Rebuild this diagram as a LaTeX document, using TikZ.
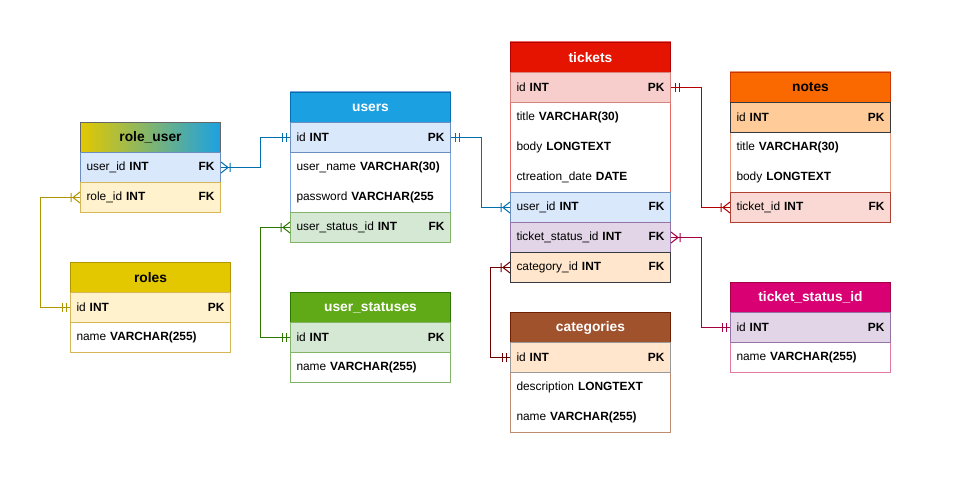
\documentclass[tikz,border=0pt]{standalone}
\usepackage{fontspec}
\setmainfont{Liberation Sans}

\definecolor{ublue}{HTML}{006EAF}
\definecolor{ugold}{HTML}{B09500}
\definecolor{ugreen}{HTML}{2D7600}
\definecolor{ured}{HTML}{B20000}
\definecolor{upink}{HTML}{A50040}
\definecolor{ubrown}{HTML}{6F0000}
\definecolor{shadegold}{HTML}{E3C800}
\definecolor{shadeblue}{HTML}{1BA1E2}

\newcommand{\keyat}[1]{\hskip 0pt plus 1filll\textbf{#1}}

\tikzset{
  hdr/.style={draw, anchor=north west, minimum width=160pt, minimum height=30pt,
    inner sep=0pt, font=\fontsize{13.8}{15}\selectfont\bfseries},
  fld/.style={anchor=north west, minimum height=30pt, text width=148pt,
    inner xsep=6pt, inner ysep=0pt, font=\fontsize{11.9}{13}\selectfont},
  small/.style={text width=128pt},
  conn/.style={line width=1pt},
  mandone/.pic={\draw[line width=1pt] (-4,-4.5) -- (-4,4.5) (-8,-4.5) -- (-8,4.5);},
  onemany/.pic={\draw[line width=1pt] (0,-5.5) -- (-7,0) -- (0,5.5) (-9,-4.5) -- (-9,4.5);},
}

\begin{document}
\begin{tikzpicture}[x=1pt, y=-1pt, line width=1pt]
\useasboundingbox (0,0) rectangle (971,481);

% role_user table
\begin{scope}[shift={(80,122)}]
    \node[hdr, minimum width=140pt, draw=black!60, left color=shadegold, right color=shadeblue]
        (ru) at (0,0) {role\_user};
    \node[fld, small, fill={rgb,255:red,218;green,232;blue,252}, draw={rgb,255:red,108;green,142;blue,191}]
        (ru-uid) at (0,30) {user\_id \textbf{INT}\keyat{FK}};
    \node[fld, small, fill={rgb,255:red,255;green,242;blue,204}, draw={rgb,255:red,214;green,182;blue,86}]
        (ru-rid) at (0,60) {role\_id \textbf{INT}\keyat{FK}};
\end{scope}

% roles table
\begin{scope}[shift={(70,262)}]
    \draw[fill=white, draw={rgb,255:red,214;green,182;blue,86}] (0,0) rectangle (160,90);
    \node[hdr, fill={rgb,255:red,227;green,200;blue,0}, draw=ugold] (roles) at (0,0) {roles};
    \node[fld, fill={rgb,255:red,255;green,242;blue,204}, draw={rgb,255:red,214;green,182;blue,86}]
        (roles-id) at (0,30) {id \textbf{INT}\keyat{PK}};
    \node[fld] (roles-name) at (0,60) {name \textbf{VARCHAR(255)}};
\end{scope}

% users table
\begin{scope}[shift={(290,92)}]
    \draw[fill=white, draw={rgb,255:red,126;green,166;blue,224}] (0,0) rectangle (160,150);
    \node[hdr, fill={rgb,255:red,27;green,161;blue,226}, draw=ublue, text=white] (users) at (0,0) {users};
    \node[fld, fill={rgb,255:red,218;green,232;blue,252}, draw={rgb,255:red,108;green,142;blue,191}]
        (users-id) at (0,30) {id \textbf{INT}\keyat{PK}};
    \node[fld] (users-name) at (0,60) {user\_name \textbf{VARCHAR(30)}};
    \node[fld] (users-pwd) at (0,90) {password \textbf{VARCHAR(255}};
    \node[fld, fill={rgb,255:red,213;green,232;blue,212}, draw={rgb,255:red,130;green,179;blue,102}]
        (users-usid) at (0,120) {user\_status\_id \textbf{INT}\keyat{FK}};
\end{scope}

% user_statuses table
\begin{scope}[shift={(290,292)}]
    \draw[fill=white, draw={rgb,255:red,130;green,179;blue,102}] (0,0) rectangle (160,90);
    \node[hdr, fill={rgb,255:red,96;green,169;blue,23}, draw=ugreen, text=white] (us) at (0,0) {user\_statuses};
    \node[fld, fill={rgb,255:red,213;green,232;blue,212}, draw={rgb,255:red,130;green,179;blue,102}]
        (us-id) at (0,30) {id \textbf{INT}\keyat{PK}};
    \node[fld] (us-name) at (0,60) {name \textbf{VARCHAR(255)}};
\end{scope}

% tickets table
\begin{scope}[shift={(510,42)}]
    \draw[fill=white, draw={rgb,255:red,234;green,107;blue,102}] (0,0) rectangle (160,240);
    \node[hdr, fill={rgb,255:red,229;green,20;blue,0}, draw=ured, text=white] (tk) at (0,0) {tickets};
    \node[fld, fill={rgb,255:red,248;green,206;blue,204}, draw={rgb,255:red,214;green,132;blue,128}]
        (tk-id) at (0,30) {id \textbf{INT}\keyat{PK}};
    \node[fld] (tk-title) at (0,60) {title \textbf{VARCHAR(30)}};
    \node[fld] (tk-body) at (0,90) {body \textbf{LONGTEXT}};
    \node[fld] (tk-date) at (0,120) {ctreation\_date \textbf{DATE}};
    \node[fld, fill={rgb,255:red,218;green,232;blue,252}, draw={rgb,255:red,108;green,142;blue,191}]
        (tk-uid) at (0,150) {user\_id \textbf{INT}\keyat{FK}};
    \node[fld, fill={rgb,255:red,225;green,213;blue,231}, draw={rgb,255:red,150;green,115;blue,166}]
        (tk-tsid) at (0,180) {ticket\_status\_id \textbf{INT}\keyat{FK}};
    \node[fld, fill={rgb,255:red,255;green,230;blue,204}, draw={rgb,255:red,54;green,57;blue,61}]
        (tk-cid) at (0,210) {category\_id \textbf{INT}\keyat{FK}};
\end{scope}

% notes table
\begin{scope}[shift={(730,72)}]
    \draw[fill=white, draw={rgb,255:red,236;green,150;blue,120}] (0,0) rectangle (160,150);
    \node[hdr, fill={rgb,255:red,250;green,104;blue,0}, draw={rgb,255:red,199;green,53;blue,0}] (nt) at (0,0) {notes};
    \node[fld, fill={rgb,255:red,255;green,204;blue,153}, draw={rgb,255:red,54;green,57;blue,61}]
        (nt-id) at (0,30) {id \textbf{INT}\keyat{PK}};
    \node[fld] (nt-title) at (0,60) {title \textbf{VARCHAR(30)}};
    \node[fld] (nt-body) at (0,90) {body \textbf{LONGTEXT}};
    \node[fld, fill={rgb,255:red,250;green,217;blue,213}, draw={rgb,255:red,174;green,65;blue,50}]
        (nt-tid) at (0,120) {ticket\_id \textbf{INT}\keyat{FK}};
\end{scope}

% categories table
\begin{scope}[shift={(510,312)}]
    \draw[fill=white, draw={rgb,255:red,190;green,140;blue,115}] (0,0) rectangle (160,120);
    \node[hdr, fill={rgb,255:red,160;green,82;blue,45}, draw={rgb,255:red,109;green,31;blue,0}, text=white] (cat) at (0,0) {categories};
    \node[fld, fill={rgb,255:red,255;green,230;blue,204}, draw=black!40]
        (cat-id) at (0,30) {id \textbf{INT}\keyat{PK}};
    \node[fld] (cat-desc) at (0,60) {description \textbf{LONGTEXT}};
    \node[fld] (cat-name) at (0,90) {name \textbf{VARCHAR(255)}};
\end{scope}

% ticket_status_id table
\begin{scope}[shift={(730,282)}]
    \draw[fill=white, draw={rgb,255:red,224;green,122;blue,160}] (0,0) rectangle (160,90);
    \node[hdr, fill={rgb,255:red,216;green,0;blue,115}, draw=upink, text=white] (ts) at (0,0) {ticket\_status\_id};
    \node[fld, fill={rgb,255:red,225;green,213;blue,231}, draw={rgb,255:red,150;green,115;blue,166}]
        (ts-id) at (0,30) {id \textbf{INT}\keyat{PK}};
    \node[fld] (ts-name) at (0,60) {name \textbf{VARCHAR(255)}};
\end{scope}

% relations
\draw[conn, ublue] (users-id.west) -- ++(-30,0) |- (ru-uid.east);
\pic[color=ublue] at (users-id.west) {mandone};
\pic[color=ublue, xscale=-1] at (ru-uid.east) {onemany};

\draw[conn, ugold] (roles-id.west) -- ++(-30,0) |- (ru-rid.west);
\pic[color=ugold] at (roles-id.west) {mandone};
\pic[color=ugold] at (ru-rid.west) {onemany};

\draw[conn, ugreen] (us-id.west) -- ++(-30,0) |- (users-usid.west);
\pic[color=ugreen] at (us-id.west) {mandone};
\pic[color=ugreen] at (users-usid.west) {onemany};

\draw[conn, ublue] (users-id.east) -- ++(30,0) |- (tk-uid.west);
\pic[color=ublue, xscale=-1] at (users-id.east) {mandone};
\pic[color=ublue] at (tk-uid.west) {onemany};

\draw[conn, ured] (tk-id.east) -- ++(30,0) |- (nt-tid.west);
\pic[color=ured, xscale=-1] at (tk-id.east) {mandone};
\pic[color=ured] at (nt-tid.west) {onemany};

\draw[conn, upink] (tk-tsid.east) -- ++(30,0) |- (ts-id.west);
\pic[color=upink, xscale=-1] at (tk-tsid.east) {onemany};
\pic[color=upink] at (ts-id.west) {mandone};

\draw[conn, ubrown] (cat-id.west) -- ++(-20,0) |- (tk-cid.west);
\pic[color=ubrown] at (cat-id.west) {mandone};
\pic[color=ubrown] at (tk-cid.west) {onemany};

\end{tikzpicture}
\end{document}
